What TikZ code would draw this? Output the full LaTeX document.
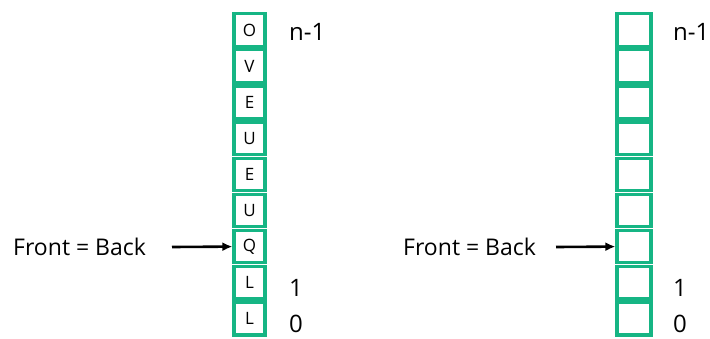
\documentclass[tikz,border=0pt]{standalone}
\usepackage{fontspec}
\setmainfont{Open Sans}
\usetikzlibrary{arrows.meta}
\definecolor{qgreen}{RGB}{22,181,132}
\begin{document}
\begin{tikzpicture}[x=1pt,y=-1pt,
  cell/.style={draw=qgreen,line width=3.2pt,minimum width=31pt,minimum height=32.5pt,inner sep=0pt,font=\fontsize{17}{17}\selectfont},
  lbl/.style={font=\fontsize{24}{24}\selectfont,anchor=west,inner sep=0pt},
  flbl/.style={font=\fontsize{23}{23}\selectfont,anchor=west,inner sep=0pt},
  arr/.style={-{Latex[length=10pt,width=9pt]},line width=2.6pt}]
\useasboundingbox (0,0) rectangle (710,338);
% left column
\foreach \i/\t in {0/O,1/V,2/E,3/U,4/E,5/U,6/Q,7/L,8/L}{
  \node[cell] (a\i) at (249.5,{30+36.1*\i}) {\t};
}
% right column
\foreach \i in {0,...,8}{
  \node[cell,minimum width=34pt] (b\i) at (634,{30+36.1*\i}) {};
}
\node[lbl] (an) at (289,32) {n-1};
\node[lbl] (a1l) at (289,288) {1};
\node[lbl] (a0l) at (289,324) {0};
\node[lbl] (bn) at (673,32) {n-1};
\node[lbl] (b1l) at (673,288) {1};
\node[lbl] (b0l) at (673,324) {0};
\node[flbl] (fa) at (13,247) {Front = Back};
\node[flbl] (fb) at (403,247) {Front = Back};
\coordinate (sa) at (172,247);
\coordinate (sb) at (556,247);
\draw[arr] (sa) -- (a6.west);
\draw[arr] (sb) -- (b6.west);
\end{tikzpicture}
\end{document}
